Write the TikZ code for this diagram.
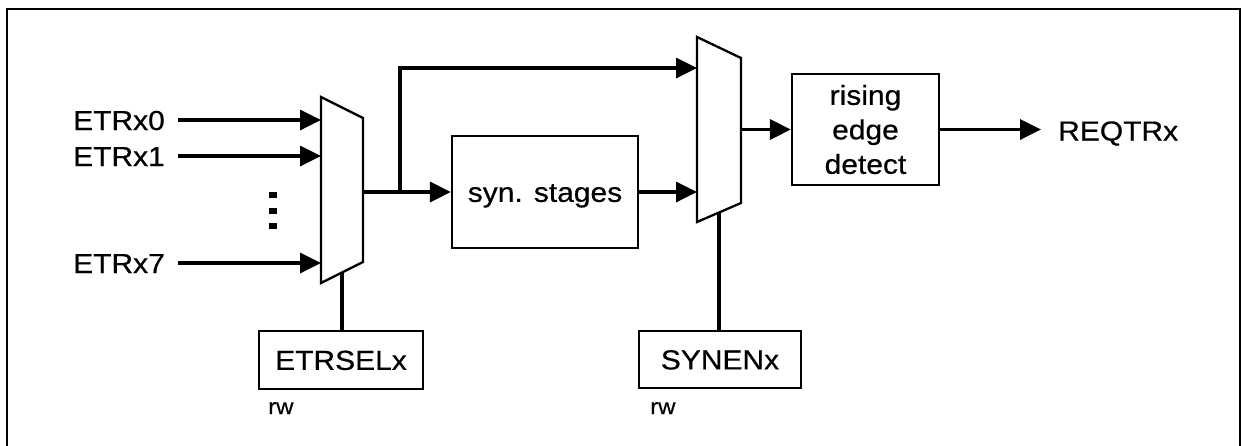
\documentclass[tikz,border=0pt]{standalone}
\usepackage{fontspec}
\setmainfont[FakeStretch=1.09,FakeBold=0.5]{Liberation Sans}
\usetikzlibrary{arrows.meta}
\begin{document}
\begin{tikzpicture}[x=1pt,y=-1pt,
  sig/.style={line width=3.5pt,-{Triangle[length=21pt,width=20pt]}},
  ctl/.style={line width=3.3pt},
  outline/.style={line width=2.3pt,line join=miter},
  blkbase/.style={draw,line width=2.3pt,inner sep=0pt,font=\fontsize{27.5}{34.5}\selectfont},
  blk/.style={blkbase,text height=19.7pt,text depth=0pt},
  lbl/.style={font=\fontsize{27.5}{33}\selectfont,inner sep=0pt},
  small/.style={font=\fontsize{22}{26}\selectfont,inner sep=0pt}]
\useasboundingbox (0,0) rectangle (1241,445);
% frame
\draw[line width=2.3pt] (7,446) -- (7,9) -- (1240,9) -- (1240,446);

% input labels
\node[lbl,anchor=base west] (etr0) at (73,130) {ETRx0};
\node[lbl,anchor=base west] (etr1) at (73,166) {ETRx1};
\node[lbl,anchor=base west] (etr7) at (73,273) {ETRx7};
\coordinate (e0s) at (178,120);
\coordinate (e1s) at (178,156);
\coordinate (e7s) at (178,263);

% mux 1
\coordinate (m1tl) at (321,97);
\coordinate (m1tr) at (363,118);
\coordinate (m1br) at (363,262);
\coordinate (m1bl) at (321,283);
\draw[outline] (m1tl) -- (m1tr) -- (m1br) -- (m1bl) -- cycle;
\coordinate (m1i0) at (321,120);
\coordinate (m1i1) at (321,156);
\coordinate (m1i7) at (321,263);
\coordinate (m1o) at (363,192);
\coordinate (m1s) at (342,272.5);
\coordinate (br) at (400,192);

\draw[sig] (e0s) -- (m1i0);
\draw[sig] (e1s) -- (m1i1);
\draw[sig] (e7s) -- (m1i7);

% dots
\fill (269,192) rectangle (277,198);
\fill (269,207.5) rectangle (277,213.5);
\fill (269,223) rectangle (277,229);

% blocks
\node[blk,minimum width=186pt,minimum height=112pt] (syn) at (545,192) {syn. stages};
\node[blkbase,minimum width=147pt,minimum height=111pt,align=center] (rise) at (865.5,129.5) {rising\\edge\\detect};
\node[blk,minimum width=164pt,minimum height=58pt] (etrsel) at (341,360) {ETRSELx};
\node[blk,minimum width=162pt,minimum height=57pt] (synen) at (720,359.5) {SYNENx};

% mux 2
\coordinate (m2tl) at (697,37);
\coordinate (m2tr) at (741,58);
\coordinate (m2br) at (741,203);
\coordinate (m2bl) at (697,222);
\draw[outline] (m2tl) -- (m2tr) -- (m2br) -- (m2bl) -- cycle;
\coordinate (m2i0) at (697,68);
\coordinate (m2i1) at (697,192);
\coordinate (m2o) at (741,129.5);
\coordinate (m2s) at (719,212.5);

% connections
\draw[sig] (m1o) -- (syn.west);
\draw[sig] (br) |- (m2i0);
\draw[sig] (syn.east) -- (m2i1);
\draw[sig] (m2o) -- (rise.west);
\coordinate (reqs) at (1041,129.5);
\draw[sig] (rise.east) -- (reqs);
\node[lbl,anchor=base west] (req) at (1058,140.5) {REQTRx};

\draw[ctl] (m1s) -- (m1s |- etrsel.north);
\draw[ctl] (m2s) -- (m2s |- synen.north);

\node[small,anchor=base west] (rw1) at (268,414) {rw};
\node[small,anchor=base west] (rw2) at (650,414) {rw};
\end{tikzpicture}
\end{document}
